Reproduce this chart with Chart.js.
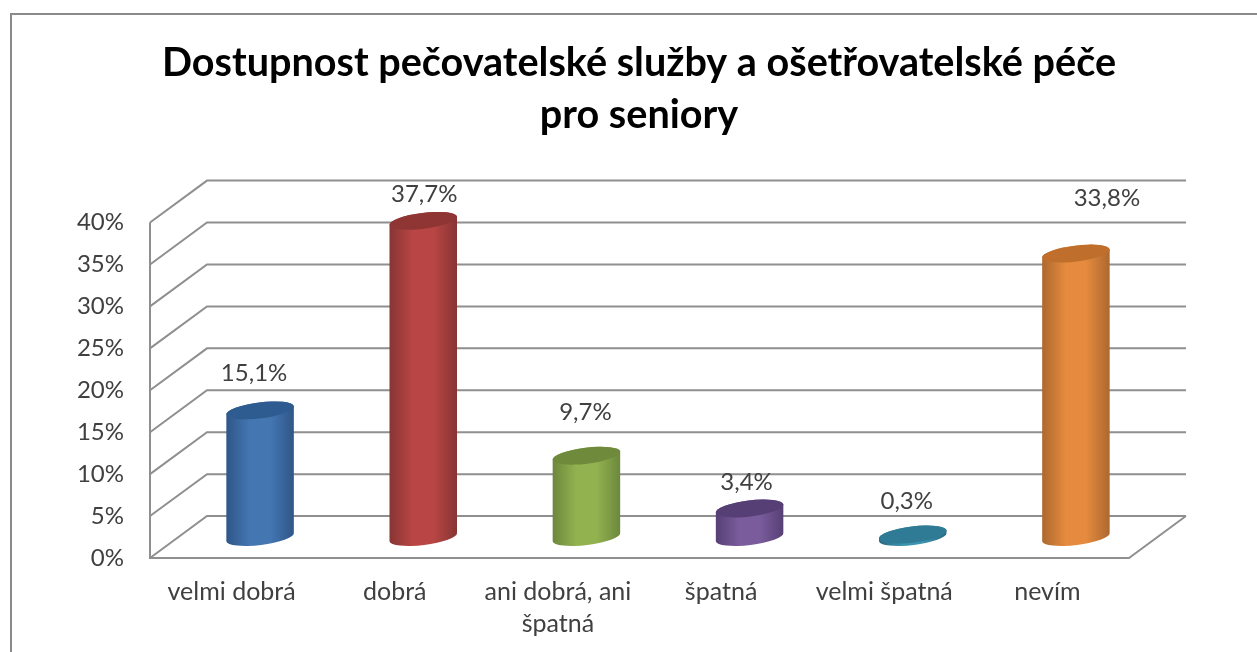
<!DOCTYPE html>
<html>
<head>
<meta charset="utf-8">
<script src="https://cdn.jsdelivr.net/npm/chart.js@4"></script>
<style>
    html, body {margin: 0; background: #fff; overflow: hidden;}
    #wrap {position: relative; width: 1257px; height: 652px; overflow: hidden;}
    #frame {position: absolute; left: 10px; top: 13px; right: 0; bottom: 0; border-left: 2px solid #8a8a8a; border-top: 2px solid #8a8a8a;}
    canvas {position: absolute; left: 0; top: 0;}
</style>
</head>
<body>
<div id="wrap">
    <div id="frame"></div>
    <canvas id="graph" width="1257" height="652"></canvas>
</div>
<script>
const titleLines = ["Dostupnost pečovatelské služby a ošetřovatelské péče", "pro seniory"];
const categories = ["velmi dobrá", "dobrá", ["ani dobrá, ani", "špatná"], "špatná", "velmi špatná", "nevím"];
const values = [15.1, 37.7, 9.7, 3.4, 0.3, 33.8];
const valueLabels = ["15,1%", "37,7%", "9,7%", "3,4%", "0,3%", "33,8%"];
const sideColors = ["#4476b2", "#b94644", "#92b24f", "#7a5c9c", "#3c93ad", "#e58a3e"];
const edgeColors = ["#2f5688", "#863533", "#6c873c", "#563f75", "#2a6a80", "#ac682f"];
const topColors = ["#2f5c90", "#8f3634", "#708a3c", "#563f75", "#2f7a95", "#bf6f2b"];
// hand placed data labels, like in the original (dx from bar, dy above bar top)
const labelDx = [-6, 1, -1, -3, -6, 31];
const labelDy = [37, 27, 43, 26, 33, 55];

const depthX = 57;
const gridColor = "#8f8f8f";
const textColor = "#404040";
const fontName = "Lato, Carlito, sans-serif";

const box3d = {
    id: "box3d",
    // title sits over the whole picture, not over the plot
    afterLayout(chart) {
        chart.titleBlock.left += 64.5;
        chart.titleBlock.right += 64.5;
    },
    beforeDatasetsDraw(chart) {
        const {ctx, chartArea, scales: {y}} = chart;
        const depthY = y.getPixelForValue(0) - y.getPixelForValue(5);
        ctx.save();
        ctx.strokeStyle = gridColor;
        ctx.lineWidth = 2;
        ctx.beginPath();
        y.ticks.forEach((tick) => {
            const py = y.getPixelForValue(tick.value);
            ctx.moveTo(chartArea.left, py);
            ctx.lineTo(chartArea.left + depthX, py - depthY);
            ctx.lineTo(chartArea.right + depthX, py - depthY);
        });
        const bottom = y.getPixelForValue(0);
        ctx.moveTo(chartArea.left, y.getPixelForValue(40));
        ctx.lineTo(chartArea.left, bottom);
        ctx.lineTo(chartArea.right, bottom);
        ctx.lineTo(chartArea.right + depthX, bottom - depthY);
        ctx.stroke();
        ctx.restore();
    },
    // bars are drawn as cylinders below, skip the flat ones
    beforeDatasetDraw() {
        return false;
    },
    afterDatasetsDraw(chart) {
        const {ctx, scales: {y}} = chart;
        const bars = chart.getDatasetMeta(0).data;
        const depthY = y.getPixelForValue(0) - y.getPixelForValue(5);
        const rx = 34;
        const ry = 8;
        const tilt = -7 * Math.PI / 180;
        bars.forEach((bar, i) => {
            const cx = bar.x + depthX / 2;
            const baseY = bar.base - depthY / 2;
            const topY = bar.y - depthY / 2;
            const grad = ctx.createLinearGradient(cx - rx, 0, cx + rx, 0);
            grad.addColorStop(0, edgeColors[i]);
            grad.addColorStop(0.35, sideColors[i]);
            grad.addColorStop(0.65, sideColors[i]);
            grad.addColorStop(1, edgeColors[i]);
            ctx.save();
            ctx.fillStyle = grad;
            ctx.beginPath();
            ctx.ellipse(cx, baseY, rx, ry, tilt, 0, Math.PI);
            ctx.ellipse(cx, topY, rx, ry, tilt, Math.PI, 0);
            ctx.closePath();
            ctx.fill();
            ctx.fillStyle = topColors[i];
            ctx.beginPath();
            ctx.ellipse(cx, topY, rx, ry, tilt, 0, 2 * Math.PI);
            ctx.fill();
            ctx.fillStyle = textColor;
            ctx.font = "24px " + fontName;
            ctx.textAlign = "center";
            ctx.textBaseline = "middle";
            ctx.fillText(valueLabels[i], cx + labelDx[i], topY - labelDy[i]);
            ctx.restore();
        });
    }
};

new Chart(document.getElementById("graph").getContext("2d"), {
    type: "bar",
    data: {
        labels: categories,
        datasets: [{data: values, backgroundColor: sideColors}]
    },
    options: {
        responsive: false,
        animation: false,
        layout: {padding: {left: 20, right: 128, top: 37, bottom: 0}},
        plugins: {
            legend: {display: false},
            tooltip: {enabled: false},
            title: {
                display: true,
                text: titleLines,
                color: "#000",
                font: {family: fontName, size: 39.6, weight: "bold", lineHeight: 1.32},
                padding: {top: 0, bottom: 81}
            }
        },
        scales: {
            x: {
                grid: {display: false},
                border: {display: false},
                afterFit: (scale) => { scale.height = 94; },
                ticks: {
                    color: textColor,
                    autoSkip: false,
                    maxRotation: 0,
                    padding: 10,
                    font: {family: fontName, size: 25, lineHeight: 1.28}
                }
            },
            y: {
                min: 0,
                max: 40,
                grid: {display: false},
                border: {display: false},
                afterFit: (scale) => { scale.width = 130; },
                ticks: {
                    stepSize: 5,
                    color: textColor,
                    padding: 18,
                    font: {family: fontName, size: 24},
                    callback: (v) => v + "%"
                }
            }
        }
    },
    plugins: [box3d]
});
</script>
</body>
</html>
